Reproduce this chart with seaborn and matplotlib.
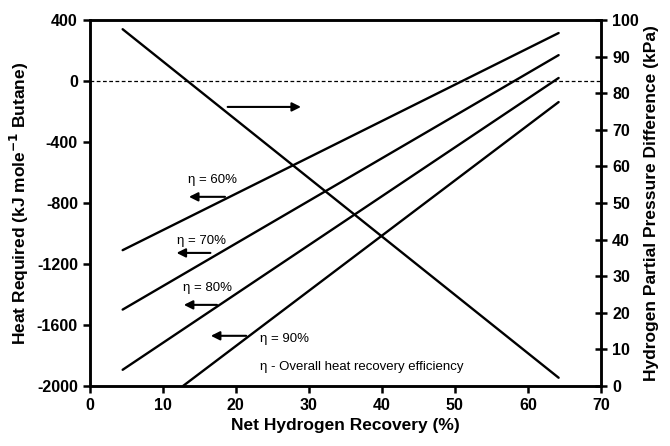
import matplotlib
matplotlib.use("Agg")
import matplotlib.pyplot as plt
import seaborn as sns
import pandas as pd

# heat required lines (left axis), start / end points
eta_names = ['60%', '70%', '80%', '90%']
eta_recovery = [[4.5, 64.2], [4.5, 64.2], [4.5, 64.2], [12.8, 64.2]]
eta_heat = [[-1110, 315], [-1500, 170], [-1895, 20], [-2000, -138]]

# pressure difference line (right axis)
dp_recovery = [4.5, 64.2]
dp_kpa = [97.5, 2.2]

# label positions for the eta curves: text (x, y), arrow from x to x, at y
eta_text_xy = [(13.4, -650), (11.9, -1050), (12.8, -1357), (23.3, -1692)]
eta_arrow = [(18.9, 13.2, -760), (16.9, 11.5, -1128), (17.8, 12.5, -1469), (21.8, 16.2, -1672)]

sns.set_style("ticks")
plt.rcParams['font.family'] = ['Liberation Sans', 'DejaVu Sans']
plt.rcParams['axes.unicode_minus'] = False
plt.rcParams['text.color'] = 'black'
plt.rcParams['axes.labelcolor'] = 'black'

fig = plt.figure(figsize=(6.7, 4.46), dpi=100)
ax = fig.add_axes([0.134, 0.135, 0.763, 0.82])

rows = []
for name, xs, ys in zip(eta_names, eta_recovery, eta_heat):
    for x, y in zip(xs, ys):
        rows.append({'eta': name, 'recovery': x, 'heat': y})
df = pd.DataFrame(rows)

sns.lineplot(data=df, x='recovery', y='heat', hue='eta', units='eta', estimator=None,
             palette=['black'] * 4, linewidth=1.7, legend=False, ax=ax)
ax.axhline(0, color='black', linestyle=(0, (3, 2)), linewidth=0.9)

ax.set_xlim(0, 70)
ax.set_ylim(-2000, 400)
ax.set_xticks(range(0, 71, 10))
ax.set_yticks(range(-2000, 401, 400))
ax.set_xlabel('Net Hydrogen Recovery (%)', fontsize=12.5, fontweight='bold')
ax.set_ylabel('Heat Required (kJ mole$^{\\mathbf{-1}}$ Butane)', fontsize=12.5, fontweight='bold')

for name, (tx, ty), (x0, x1, ay) in zip(eta_names, eta_text_xy, eta_arrow):
    ax.text(tx, ty, '\u03b7 = ' + name, fontsize=9.5, ha='left', va='center')
    ax.annotate('', xy=(x1, ay), xytext=(x0, ay),
                arrowprops=dict(arrowstyle='-|>', color='black', lw=1.5, mutation_scale=13))

ax.text(23.3, -1875, '\u03b7 - Overall heat recovery efficiency', fontsize=9.5, ha='left', va='center')
ax.annotate('', xy=(29.3, -170), xytext=(18.5, -170),
            arrowprops=dict(arrowstyle='-|>', color='black', lw=1.5, mutation_scale=13))

ax2 = ax.twinx()
sns.lineplot(x=dp_recovery, y=dp_kpa, color='black', linewidth=1.7, ax=ax2)
ax2.set_ylim(0, 100)
ax2.set_yticks(range(0, 101, 10))
ax2.set_ylabel('Hydrogen Partial Pressure Difference (kPa)', fontsize=12.5, fontweight='bold')

for a in (ax, ax2):
    for s in a.spines.values():
        s.set_linewidth(1.8)
        s.set_color('black')
    for lab in a.get_xticklabels() + a.get_yticklabels():
        lab.set_fontweight('bold')
        lab.set_fontsize(11.5)

ax.tick_params(axis='both', direction='out', length=5, width=1.8, colors='black')
ax2.tick_params(axis='y', direction='inout', length=9, width=1.8, colors='black')

fig.savefig('out.png', dpi=100)
